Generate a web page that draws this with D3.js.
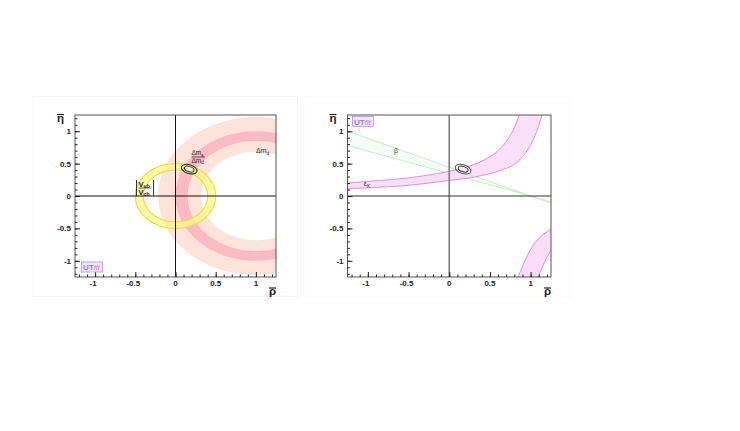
<!DOCTYPE html>
<html><head><meta charset="utf-8">
<script src="https://cdn.jsdelivr.net/npm/d3@7"></script>
<style>body{margin:0;background:#fff}svg{display:block}text{font-family:"Liberation Sans",Arial,sans-serif}</style>
</head><body>
<script>
// ---- data ----
const axisDomain = [-1.25, 1.25];
const majorTicks = [-1, -0.5, 0, 0.5, 1];
const tickLabels = ["-1", "-0.5", "0", "0.5", "1"];
const minorStep = 0.1;

// Left panel constraints
const dmdCenter = [1, 0];
const dmdLightRadii = [0.69, 1.21];
const dmsRatioRadii = [0.85, 1.0];
const vubCenter = [0, 0];
const vubRadii = [0.40, 0.50];

// fit contours: [rho, eta, rx, ry, angleDeg]
const contourOuter = [0.17, 0.415, 0.1, 0.068, -18];
const contourInner = [0.17, 0.415, 0.062, 0.04, -18];

// Right panel: beta wedge edges (rho, eta)
const betaUpper = [[-1.25, 1.0], [1.25, -0.111]];
const betaLower = [[-1.25, 0.78], [1.25, -0.087]];

// epsilon_K band, upper branch: upper-left edge and lower-right edge
const epsUpperEdge = [[-1.25, 0.20], [-0.8, 0.245], [-0.5, 0.28], [0, 0.38], [0.25, 0.46], [0.45, 0.57], [0.6, 0.70], [0.7, 0.84], [0.78, 1.0], [0.86, 1.25]];
const epsLowerEdge = [[-1.25, 0.11], [-0.8, 0.14], [-0.5, 0.165], [0, 0.24], [0.3, 0.29], [0.62, 0.39], [0.8, 0.49], [0.91, 0.62], [1.0, 0.79], [1.07, 0.98], [1.14, 1.25]];
// lower branch
const epsBranch2Outer = [[0.845, -1.25], [0.93, -1.0], [1.01, -0.8], [1.12, -0.63], [1.25, -0.51]];
const epsBranch2Inner = [[1.09, -1.25], [1.15, -1.08], [1.2, -0.95], [1.25, -0.84]];

const W = 740, H = 431;
const svg = d3.select("body").append("svg").attr("width", W).attr("height", H);

// faint panel borders
svg.append("rect").attr("x", 32.5).attr("y", 96.5).attr("width", 265).attr("height", 200)
  .attr("fill", "none").attr("stroke", "#f6f6f6");
svg.append("rect").attr("x", 305.5).attr("y", 96.5).attr("width", 265).attr("height", 200)
  .attr("fill", "none").attr("stroke", "#fafafa");

function makePanel(x0, x1, y0, y1, id) {
  const x = d3.scaleLinear().domain(axisDomain).range([x0, x1]);
  const y = d3.scaleLinear().domain(axisDomain).range([y1, y0]);
  svg.append("clipPath").attr("id", id).append("rect")
    .attr("x", x0).attr("y", y0).attr("width", x1 - x0).attr("height", y1 - y0);
  const g = svg.append("g");
  const plot = g.append("g").attr("clip-path", `url(#${id})`);
  return {x, y, g, plot, x0, x1, y0, y1};
}

function ellipsePts(p, cx, cy, r) {
  return d3.range(0, 361, 3).map(a => {
    const t = a * Math.PI / 180;
    return [p.x(cx + r * Math.cos(t)), p.y(cy + r * Math.sin(t))];
  });
}
function ringPath(p, c, radii) {
  const line = d3.line();
  return line(ellipsePts(p, c[0], c[1], radii[1])) + "Z" + line(ellipsePts(p, c[0], c[1], radii[0]).reverse()) + "Z";
}
function circlePath(p, c, r) { return d3.line()(ellipsePts(p, c[0], c[1], r)) + "Z"; }

function drawContour(p, outerStroke, fill, innerStroke, innerFill) {
  const mk = (c, stroke, f) => {
    const cx = p.x(c[0]), cy = p.y(c[1]);
    const rx = p.x(c[0] + c[2]) - cx, ry = cy - p.y(c[1] + c[3]);
    p.plot.append("ellipse").attr("cx", cx).attr("cy", cy).attr("rx", rx).attr("ry", ry)
      .attr("transform", `rotate(${-c[4]},${cx},${cy})`)
      .attr("fill", f).attr("stroke", stroke).attr("stroke-width", 1);
  };
  mk(contourOuter, outerStroke, fill);
  mk(contourInner, innerStroke, innerFill);
}

function drawAxes(p, zeroVStroke, zeroVW, zeroHStroke) {
  p.plot.append("line").attr("x1", p.x(0)).attr("x2", p.x(0)).attr("y1", p.y0).attr("y2", p.y1)
    .attr("stroke", zeroVStroke).attr("stroke-width", zeroVW);
  p.plot.append("line").attr("x1", p.x0).attr("x2", p.x1).attr("y1", p.y(0)).attr("y2", p.y(0))
    .attr("stroke", zeroHStroke).attr("stroke-width", 1);
  // frame
  p.g.append("rect").attr("x", p.x0).attr("y", p.y0).attr("width", p.x1 - p.x0).attr("height", p.y1 - p.y0)
    .attr("fill", "none").attr("stroke", "#555").attr("stroke-width", 1);
  const minors = d3.range(-1.2, 1.21, minorStep).map(v => Math.round(v * 10) / 10);
  const style = s => { s.select(".domain").remove(); s.selectAll("line").attr("stroke", "#222"); };
  p.g.append("g").attr("transform", `translate(0,${p.y1})`)
    .call(d3.axisTop(p.x).tickValues(minors).tickSize(2.5).tickFormat("")).call(style);
  p.g.append("g").attr("transform", `translate(0,${p.y1})`)
    .call(d3.axisTop(p.x).tickValues(majorTicks).tickSize(5).tickFormat("")).call(style);
  p.g.append("g").attr("transform", `translate(${p.x0},0)`)
    .call(d3.axisRight(p.y).tickValues(minors).tickSize(2.5).tickFormat("")).call(style);
  p.g.append("g").attr("transform", `translate(${p.x0},0)`)
    .call(d3.axisRight(p.y).tickValues(majorTicks).tickSize(5).tickFormat("")).call(style);
  majorTicks.forEach((v, i) => {
    p.g.append("text").attr("x", p.x(v) - (v < 0 ? 2 : 0)).attr("y", p.y1 + 9).attr("text-anchor", "middle")
      .attr("font-size", 8).attr("font-weight", "bold").attr("fill", "#222").text(tickLabels[i]);
    p.g.append("text").attr("x", p.x0 - 4).attr("y", p.y(v) + 3).attr("text-anchor", "end")
      .attr("font-size", 8).attr("font-weight", "bold").attr("fill", "#222").text(tickLabels[i]);
  });
  // axis titles with overlines
  p.g.append("text").attr("x", p.x0 - 18).attr("y", p.y0 + 7).attr("font-size", 11.5)
    .attr("font-weight", "bold").attr("fill", "#222").text("η");
  p.g.append("line").attr("x1", p.x0 - 18).attr("x2", p.x0 - 11).attr("y1", p.y0 - 0.5).attr("y2", p.y0 - 0.5)
    .attr("stroke", "#222").attr("stroke-width", 1.2);
  p.g.append("text").attr("x", p.x1 - 7).attr("y", p.y1 + 18).attr("font-size", 11.5)
    .attr("font-weight", "bold").attr("fill", "#222").text("ρ");
  p.g.append("line").attr("x1", p.x1 - 7).attr("x2", p.x1).attr("y1", p.y1 + 11).attr("y2", p.y1 + 11)
    .attr("stroke", "#222").attr("stroke-width", 1.2);
}

function logo(p, lx, ly) {
  const g = p.g.append("g");
  g.append("rect").attr("x", lx).attr("y", ly).attr("width", 21).attr("height", 10)
    .attr("fill", "#eee6fd").attr("stroke", "#b48ef0").attr("stroke-width", 0.8);
  const t = g.append("text").attr("x", lx + 1.5).attr("y", ly + 8).attr("font-size", 8);
  t.append("tspan").attr("fill", "#8a7ef2").attr("font-weight", "bold").text("UT");
  t.append("tspan").attr("fill", "#f26bb8").attr("font-style", "italic").attr("font-size", 8).text("fit");
}

// ---------- Left panel ----------
const L = makePanel(75, 276, 115, 277, "clipL");
L.plot.append("path").attr("d", ringPath(L, dmdCenter, dmdLightRadii)).attr("fill", "#fde3da")
  .attr("fill-rule", "evenodd").attr("stroke", "#fbd0c6").attr("stroke-width", 0.5);
L.plot.append("path").attr("d", ringPath(L, dmdCenter, dmsRatioRadii)).attr("fill", "#f9bac3")
  .attr("fill-rule", "evenodd");
L.plot.append("path").attr("d", ringPath(L, vubCenter, vubRadii)).attr("fill", "#fbf68c")
  .attr("fill-opacity", 0.78).attr("fill-rule", "evenodd");
L.plot.append("path").attr("d", circlePath(L, vubCenter, vubRadii[1])).attr("fill", "none").attr("stroke", "#f2dc3a").attr("stroke-width", 1.2);
L.plot.append("path").attr("d", circlePath(L, vubCenter, vubRadii[0])).attr("fill", "none").attr("stroke", "#f2dc3a").attr("stroke-width", 1.2);
drawAxes(L, "#111", 1, "#111");
drawContour(L, "#222", "#eef2a8", "#333", "#f5f7c0");
logo(L, 81.5, 262);
// labels
const lab = (p, x, y, main, sub, size) => {
  const t = p.g.append("text").attr("x", x).attr("y", y).attr("font-size", size || 7).attr("fill", "#222");
  t.append("tspan").text(main);
  t.append("tspan").attr("font-size", (size || 7) * 0.7).attr("dy", 1.5).text(sub);
  return t;
};
lab(L, 256, 153, "Δm", "d", 7);
lab(L, 191.5, 155, "Δm", "s", 6.5);
L.g.append("line").attr("x1", 191.5).attr("x2", 205).attr("y1", 157).attr("y2", 157).attr("stroke", "#222").attr("stroke-width", 0.7);
lab(L, 191.5, 162.5, "Δm", "d", 6.5);
// |Vub/Vcb|
L.g.append("line").attr("x1", 136.5).attr("x2", 136.5).attr("y1", 180).attr("y2", 196).attr("stroke", "#222").attr("stroke-width", 0.9);
L.g.append("line").attr("x1", 153.5).attr("x2", 153.5).attr("y1", 180).attr("y2", 196).attr("stroke", "#222").attr("stroke-width", 0.9);
lab(L, 138.5, 186.5, "V", "ub", 7.5).attr("font-weight", "bold");
L.g.append("line").attr("x1", 138.5).attr("x2", 151.5).attr("y1", 188).attr("y2", 188).attr("stroke", "#222").attr("stroke-width", 0.7);
lab(L, 138.5, 194.5, "V", "cb", 7.5).attr("font-weight", "bold");

// ---------- Right panel ----------
const R = makePanel(347.5, 551, 115, 277, "clipR");
const ln = d3.line().x(d => R.x(d[0])).y(d => R.y(d[1]));
R.plot.append("path").attr("d", ln(betaUpper.concat(betaLower.slice().reverse())) + "Z")
  .attr("fill", "#f3fcf6").attr("stroke", "none");
R.plot.append("path").attr("d", ln(betaUpper)).attr("fill", "none").attr("stroke", "#b5ebbb").attr("stroke-width", 0.8);
R.plot.append("path").attr("d", ln(betaLower)).attr("fill", "none").attr("stroke", "#b5ebbb").attr("stroke-width", 0.8);
const clY = d3.line().x(d => R.x(d[0])).y(d => R.y(d[1])).curve(d3.curveCatmullRom);
R.plot.append("path").attr("d", clY(epsUpperEdge) + "L" + clY(epsLowerEdge.slice().reverse()).slice(1) + "Z")
  .attr("fill", "#f9dcf8").attr("fill-opacity", 0.9);
R.plot.append("path").attr("d", clY(epsUpperEdge)).attr("fill", "none").attr("stroke", "#e47ae8").attr("stroke-width", 0.9);
R.plot.append("path").attr("d", clY(epsLowerEdge)).attr("fill", "none").attr("stroke", "#e47ae8").attr("stroke-width", 0.9);
R.plot.append("path").attr("d", clY(epsBranch2Outer) + "L" + R.x(1.3) + "," + R.y(-0.5) + "L" + R.x(1.3) + "," + R.y(-1.3) + "Z")
  .attr("fill", "#f9dcf8");
R.plot.append("path").attr("d", clY(epsBranch2Inner) + "L" + R.x(1.3) + "," + R.y(-0.84) + "L" + R.x(1.3) + "," + R.y(-1.3) + "Z")
  .attr("fill", "#fff");
R.plot.append("path").attr("d", clY(epsBranch2Outer)).attr("fill", "none").attr("stroke", "#e47ae8").attr("stroke-width", 0.9);
R.plot.append("path").attr("d", clY(epsBranch2Inner)).attr("fill", "none").attr("stroke", "#e47ae8").attr("stroke-width", 0.9);
drawAxes(R, "#777", 1.5, "#333");
drawContour(R, "#555", "#fff", "#333", "#f7eaf2");
logo(R, 352.5, 116.5);
R.g.append("text").attr("x", R.x(-0.68)).attr("y", R.y(0.67)).attr("font-size", 7).attr("fill", "#444").text("β");
lab(R, R.x(-1.05), R.y(0.15), "ε", "K", 7);
</script>
</body></html>
